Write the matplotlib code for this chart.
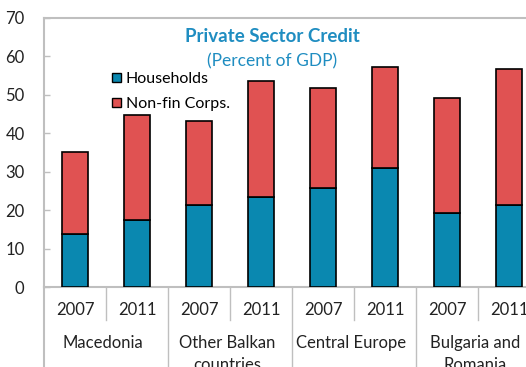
import numpy as np
import matplotlib.pyplot as plt
from matplotlib.patches import Patch

plt.rcParams['font.family'] = ['Lato', 'DejaVu Sans']

# private sector credit, percent of GDP
years = ['2007', '2011'] * 4
groups = ['Macedonia', 'Other Balkan\ncountries', 'Central Europe', 'Bulgaria and\nRomania']
households = [13.7, 17.4, 21.3, 23.3, 25.8, 31.0, 19.3, 21.3]
total = [35.1, 44.8, 43.2, 53.7, 51.7, 57.3, 49.2, 56.7]
nonfin = [t - h for t, h in zip(total, households)]

c_hh = '#0A88B0'
c_nf = '#E05252'
c_title = '#1F8DC1'
c_axis = '#BFBFBF'
c_text = '#222222'
fs = 12

fig = plt.figure(figsize=(5.26, 3.67), dpi=100)
ax = fig.add_axes([44/526, 80/367, (540-44)/526, 269/367])

x = np.arange(len(years))
w = 0.42
ax.bar(x, households, w, color=c_hh, edgecolor='black', linewidth=1.2, zorder=3)
ax.bar(x, nonfin, w, bottom=households, color=c_nf, edgecolor='black', linewidth=1.2, zorder=3)

ax.set_xlim(-0.5, 7.5)
ax.set_ylim(0, 70)
ax.set_yticks(range(0, 71, 10))
ax.set_xticks([])
for s in ['left', 'top', 'bottom']:
    ax.spines[s].set_color(c_axis)
    ax.spines[s].set_linewidth(1.5)
ax.spines['right'].set_visible(False)
ax.tick_params(axis='y', direction='in', length=4, width=1, color=c_axis,
               labelsize=fs, labelcolor=c_text, pad=14)

# category axis: years, separators, group names
tr = ax.get_xaxis_transform()
for i, yr in enumerate(years):
    ax.text(i, -0.085, yr, transform=tr, ha='center', va='center', fontsize=fs, color=c_text)
for i, g in enumerate(groups):
    ax.text(2*i + 0.45, -0.18, g, transform=tr, ha='center', va='top',
            fontsize=fs, color=c_text, linespacing=1.45)
for xs in [0.5, 2.5, 4.5, 6.5]:
    ax.plot([xs, xs], [0, -0.123], transform=tr, color=c_axis, lw=1, clip_on=False)
for xs in [-0.5, 1.5, 3.5, 5.5]:
    ax.plot([xs, xs], [0, -0.35], transform=tr, color=c_axis, lw=1.5 if xs < 0 else 1, clip_on=False)

fig.text(272/526, 1 - 36/367, 'Private Sector Credit', ha='center', va='center',
         fontsize=13.5, fontweight='bold', color=c_title)
fig.text(272/526, 1 - 61/367, '(Percent of GDP)', ha='center', va='center',
         fontsize=12.5, color=c_title)

handles = [Patch(facecolor=c_hh, edgecolor='black', linewidth=1, label='Households'),
           Patch(facecolor=c_nf, edgecolor='black', linewidth=1, label='Non-fin Corps.')]
fig.legend(handles=handles, loc='upper left', bbox_to_anchor=(112/526, 1 - 72/367),
           frameon=False, fontsize=11.5, handlelength=0.55, handleheight=0.55,
           handletextpad=0.3, labelspacing=0.7, borderaxespad=0, borderpad=0)

fig.savefig('out.png', dpi=100)
